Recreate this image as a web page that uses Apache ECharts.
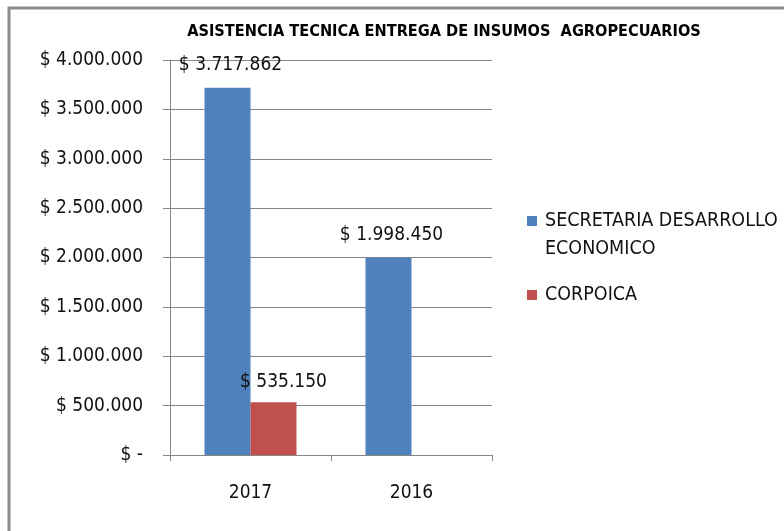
<!DOCTYPE html>
<html>
<head>
<meta charset="utf-8">
<script src="https://cdn.jsdelivr.net/npm/echarts@6/dist/echarts.min.js"></script>
<style>
  html, body { margin: 0; padding: 0; background: #fff; }
  #chart { width: 784px; height: 531px; }
</style>
</head>
<body>
<div id="chart"></div>
<script>
const categories = ['2017', '2016']
const secretaria = [3717862, 1998450]
const corpoica = [535150, 0]
const seriesNames = ['SECRETARIA DESARROLLO ECONOMICO', 'CORPOICA']
const yTicks = [0, 500000, 1000000, 1500000, 2000000, 2500000, 3000000, 3500000, 4000000]

const FONT = "'Liberation Sans Narrow', 'DejaVu Sans Condensed', 'Liberation Sans', sans-serif"

const money = (v) => v === 0 ? '$ -' : '$ ' + String(v).replace(/\B(?=(\d{3})+(?!\d))/g, '.')

// legend swatches: square sits next to the first text line, tiny dots stretch the box
const iconTop = 'path://M0,0h10v10h-10zM0,37.99h0.01v0.01z'
const iconMid = 'path://M0,0h0.01v0.01zM0,14h10v10h-10zM0,37.99h0.01v0.01z'

const chart = echarts.init(document.getElementById('chart'))
chart.setOption({
  animation: false,
  backgroundColor: '#fff',
  textStyle: { fontFamily: FONT },
  graphic: [{
    type: 'rect',
    shape: { x: 9, y: 8, width: 820, height: 560 },
    style: { fill: 'none', stroke: '#8c8c8c', lineWidth: 3 },
    silent: true
  }],
  title: {
    text: 'ASISTENCIA TECNICA ENTREGA DE INSUMOS  AGROPECUARIOS',
    left: 439,
    textAlign: 'center',
    top: 19,
    textStyle: { fontFamily: FONT, fontSize: 16.2, fontWeight: 'bold', color: '#000' }
  },
  legend: {
    orient: 'vertical',
    left: 527,
    top: 207,
    padding: 0,
    itemWidth: 10,
    itemHeight: 38,
    itemGap: 13,
    data: [
      { name: seriesNames[0], icon: iconTop },
      { name: seriesNames[1], icon: iconMid }
    ],
    formatter: (name) => name.replace('DESARROLLO ', 'DESARROLLO\n'),
    textStyle: { fontFamily: FONT, fontSize: 19.5, color: '#111', lineHeight: 28, padding: [0, 0, 0, 3] }
  },
  grid: { left: 170, top: 60, right: 292, bottom: 76, containLabel: false },
  xAxis: {
    type: 'category',
    data: categories,
    axisLine: { lineStyle: { color: '#888' } },
    axisTick: { show: true, length: 6, lineStyle: { color: '#888' } },
    axisLabel: { fontFamily: FONT, fontSize: 19, color: '#111', margin: 29 }
  },
  yAxis: {
    type: 'value',
    min: yTicks[0],
    max: yTicks[yTicks.length - 1],
    interval: yTicks[1] - yTicks[0],
    axisLine: { show: true, lineStyle: { color: '#888' } },
    axisTick: { show: true, length: 7, lineStyle: { color: '#888' } },
    splitLine: { lineStyle: { color: '#888' } },
    axisLabel: { fontFamily: FONT, fontSize: 19, color: '#111', margin: 27, formatter: money }
  },
  series: [
    {
      name: seriesNames[0],
      type: 'bar',
      data: secretaria,
      barWidth: 46,
      barGap: '0%',
      itemStyle: { color: '#4f81bd' },
      label: {
        show: true, position: 'top', distance: 13, offset: [3, 0],
        fontFamily: FONT, fontSize: 19, color: '#111',
        formatter: (p) => money(p.value)
      }
    },
    {
      name: seriesNames[1],
      type: 'bar',
      data: corpoica,
      barWidth: 46,
      barGap: '0%',
      itemStyle: { color: '#c0504d' },
      label: {
        show: true, position: 'top', distance: 11, offset: [10, 0],
        fontFamily: FONT, fontSize: 19, color: '#111',
        formatter: (p) => p.value ? money(p.value) : ''
      }
    }
  ]
})
</script>
</body>
</html>
